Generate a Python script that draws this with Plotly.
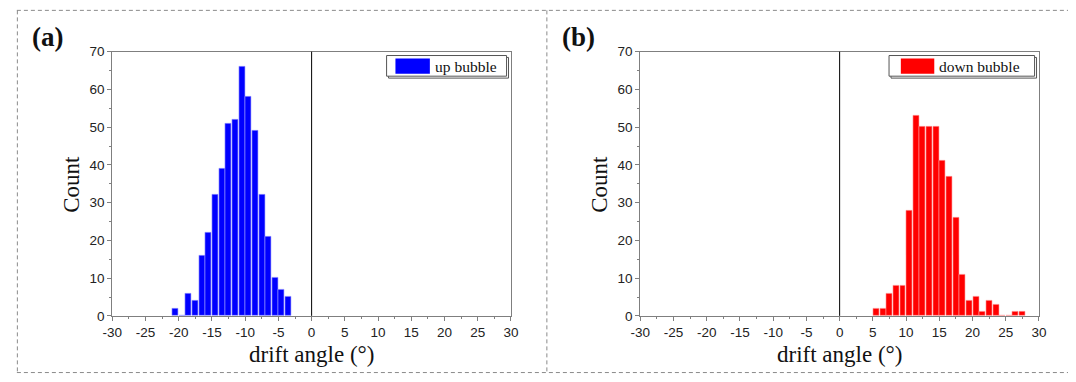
import plotly.graph_objects as go

# ---- data ----
up_angles = [-20.5, -19.5, -18.5, -17.5, -16.5, -15.5, -14.5, -13.5, -12.5, -11.5,
             -10.5, -9.5, -8.5, -7.5, -6.5, -5.5, -4.5, -3.5]
up_counts = [2, 0, 6, 4, 16, 22, 32, 39, 51, 52, 66, 58, 49, 32, 21, 10, 7, 5]

down_angles = [5.5, 6.5, 7.5, 8.5, 9.5, 10.5, 11.5, 12.5, 13.5, 14.5, 15.5, 16.5,
               17.5, 18.5, 19.5, 20.5, 21.5, 22.5, 23.5, 24.5, 25.5, 26.5, 27.5]
down_counts = [2, 2, 6, 8, 8, 28, 53, 50, 50, 50, 41, 37, 26, 11, 4, 5, 1, 4, 3, 0, 0, 1, 1]

x_ticks = [-30, -25, -20, -15, -10, -5, 0, 5, 10, 15, 20, 25, 30]
x_tick_labels = ["-30", "-25", "-20", "-15", "-10", "-5", "0", "5", "10", "15", "20", "25", "30"]
y_ticks = [0, 10, 20, 30, 40, 50, 60, 70]
x_title = "drift angle (°)"
y_title = "Count"
labels = ["up bubble", "down bubble"]
panel_tags = ["(a)", "(b)"]
colors = ["#0000FF", "#FF0000"]

W, H = 1076, 382
def px(x): return x / W
def py(y): return 1 - y / H

fig = go.Figure()
fig.add_trace(go.Bar(x=up_angles, y=up_counts, marker=dict(color=colors[0], line=dict(color="#9a9aff", width=0.6)),
                     width=0.9, xaxis="x", yaxis="y", showlegend=False, name=labels[0]))
fig.add_trace(go.Bar(x=down_angles, y=down_counts, marker=dict(color=colors[1], line=dict(color="#ff9a9a", width=0.6)),
                     width=0.9, xaxis="x2", yaxis="y2", showlegend=False, name=labels[1]))

top, bot = 46.5, 321.5
doms = [(104, 509.5), (641, 1046.5)]
tickfont = dict(family="Liberation Sans, Arial", size=13.5, color="#222")
axcol = "#7f7f7f"

def xaxis(dom, anchor):
    return dict(domain=[px(dom[0]), px(dom[1])], anchor=anchor, range=[-30, 30],
                tickvals=x_ticks, ticktext=x_tick_labels, ticks="outside", ticklen=4, tickcolor=axcol, tickwidth=1,
                minor=dict(dtick=2.5, tick0=0, ticks="outside", ticklen=2, tickcolor=axcol, showgrid=False),
                showline=True, linecolor=axcol, linewidth=1, mirror=True, showgrid=False,
                zeroline=False, tickfont=tickfont, fixedrange=True)

def yaxis(anchor):
    return dict(domain=[py(bot), py(top)], anchor=anchor, range=[0, 70],
                tickvals=y_ticks, ticks="outside", ticklen=4, tickcolor=axcol, tickwidth=1,
                minor=dict(dtick=5, tick0=0, ticks="outside", ticklen=2, tickcolor=axcol, showgrid=False),
                showline=True, linecolor=axcol, linewidth=1, mirror=True, showgrid=False,
                zeroline=False, tickfont=tickfont, fixedrange=True)

fig.update_layout(
    width=W, height=H, margin=dict(l=0, r=0, t=0, b=0, pad=0),
    paper_bgcolor="white", plot_bgcolor="white", bargap=0,
    xaxis=xaxis(doms[0], "y"), yaxis=yaxis("x"),
    xaxis2=xaxis(doms[1], "y2"), yaxis2=yaxis("x2"),
)

shapes = []
annotations = []
serif = "Liberation Serif, Times New Roman, serif"
dash_line = dict(color="#8a8a8a", width=1, dash="4px,3px")
# dashed panel borders
shapes.append(dict(type="line", xref="paper", yref="paper", x0=px(7), x1=1, y0=py(3.5), y1=py(3.5), line=dash_line))
shapes.append(dict(type="line", xref="paper", yref="paper", x0=px(7), x1=1, y0=py(380.5), y1=py(380.5), line=dash_line))
shapes.append(dict(type="line", xref="paper", yref="paper", x0=px(7.5), x1=px(7.5), y0=py(3.5), y1=py(380.5), line=dash_line))
shapes.append(dict(type="line", xref="paper", yref="paper", x0=px(546), x1=px(546), y0=py(3.5), y1=py(380.5), line=dash_line))

legend_boxes = [((383, 505), (392, 427)), ((894, 1042), (906, 940))]
tag_x = [38, 578]
for i, xs in enumerate(["x", "x2"]):
    # zero reference line
    shapes.append(dict(type="line", xref=xs, yref=("y" if i == 0 else "y2") + " domain", x0=0, x1=0, y0=0, y1=1,
                       line=dict(color="#000", width=1)))
    (bx0, bx1), (sx0, sx1) = legend_boxes[i]
    # legend box with shadow
    shapes.append(dict(type="rect", xref="paper", yref="paper", x0=px(bx0 + 2), x1=px(bx1 + 2), y0=py(74), y1=py(52.5),
                       line=dict(color="#555", width=1), fillcolor="rgba(0,0,0,0)"))
    shapes.append(dict(type="rect", xref="paper", yref="paper", x0=px(bx0), x1=px(bx1), y0=py(72), y1=py(50.5),
                       line=dict(color="#555", width=1), fillcolor="white"))
    shapes.append(dict(type="rect", xref="paper", yref="paper", x0=px(sx0), x1=px(sx1), y0=py(69.5), y1=py(53.5),
                       line=dict(width=0), fillcolor=colors[i]))
    annotations.append(dict(xref="paper", yref="paper", x=px(sx1 + 3), y=py(61.5), text=labels[i],
                            showarrow=False, xanchor="left", yanchor="middle",
                            font=dict(family=serif, size=15.5, color="#111")))
    d0, d1 = doms[i]
    annotations.append(dict(xref="paper", yref="paper", x=px((d0 + d1) / 2), y=py(362), text=x_title,
                            showarrow=False, xanchor="center", yanchor="middle",
                            font=dict(family=serif, size=23, color="#111")))
    annotations.append(dict(xref="paper", yref="paper", x=px(d0 - 41), y=py((top + bot) / 2), text=y_title,
                            showarrow=False, xanchor="center", yanchor="middle", textangle=-90,
                            font=dict(family=serif, size=23, color="#111")))
    annotations.append(dict(xref="paper", yref="paper", x=px(tag_x[i]), y=py(31), text="<b>" + panel_tags[i] + "</b>",
                            showarrow=False, xanchor="center", yanchor="middle",
                            font=dict(family=serif, size=27, color="#111")))

fig.update_layout(shapes=shapes, annotations=annotations)
fig.write_html("out.html", config={"displayModeBar": False},
               post_script="document.body.style.margin='0';document.body.style.overflow='hidden';")
